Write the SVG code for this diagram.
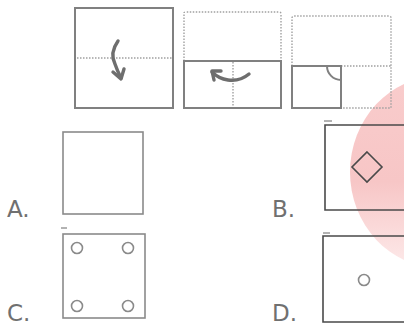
<svg xmlns="http://www.w3.org/2000/svg" width="404" height="327" viewBox="0 0 404 327">
<defs>
<linearGradient id="pinkGrad" x1="0" y1="0" x2="0" y2="1">
<stop offset="0" stop-color="#f9cccc"/>
<stop offset="0.55" stop-color="#f7c6c6"/>
<stop offset="1" stop-color="#fdeaea"/>
</linearGradient>
</defs>
<style>
.solid{fill:none;stroke:#808080;stroke-width:2}
.dot{fill:none;stroke:#a0a0a0;stroke-width:1.4;stroke-dasharray:1.5 1.5}
.arrow{fill:none;stroke:#6e6e6e;stroke-width:3.4;stroke-linecap:round;stroke-linejoin:round}
.opt{fill:none;stroke:#8a8a8a;stroke-width:1.6}
.optd{fill:none;stroke:#4a4a4a;stroke-width:1.6}
.lbl{font-family:"DejaVu Sans",Verdana,sans-serif;font-size:23px;fill:#707070}
.mark{fill:none;stroke:#666;stroke-width:1}
</style>
<rect width="404" height="327" fill="#ffffff"/>
<ellipse cx="440" cy="172" rx="90" ry="96" fill="url(#pinkGrad)"/>

<g id="step1">
<rect class="solid" x="75" y="8" width="98" height="100"/>
<line class="dot" x1="77" y1="58" x2="173" y2="58"/>
<path class="arrow" d="M118,41 C113,48 111,56 115,64 C117,70 119,74 121,78"/>
<path class="arrow" d="M113,72 L121,79 L124,69"/>
</g>

<g id="step2">
<path class="dot" d="M184,61 V13 Q184,12 186,12 H279 Q281,12 281,14 V61"/>
<rect class="solid" x="184" y="61" width="97" height="47"/>
<line class="dot" x1="233" y1="62" x2="233" y2="107"/>
<path class="arrow" d="M249,74 C243,79 235,81 228,80 C221,79 216,76 212,72"/>
<path class="arrow" d="M221,71 L212,71 L214,80"/>
</g>

<g id="step3">
<path class="dot" d="M292,66 V18 Q292,16 294,16 H389 Q391,16 391,18 V108 H341 M341,66 H391"/>
<rect class="solid" x="292" y="66" width="49" height="42"/>
<path class="solid" d="M327,66 A14,14 0 0 0 341,80"/>
</g>

<g id="optionA">
<text class="lbl" x="7" y="217">A.</text>
<rect class="opt" x="63" y="132" width="80" height="82"/>
</g>

<g id="optionB">
<text class="lbl" x="272" y="217">B.</text>
<path class="mark" d="M324,121 H332"/>
<path class="optd" d="M410,125 H325 V210 H410"/>
<path class="optd" d="M367,152 L382,167 L367,182 L352,167 Z" stroke="#5a3c3c"/>
</g>

<g id="optionC">
<text class="lbl" x="7" y="321">C.</text>
<path class="mark" d="M61,228 H67"/>
<rect class="opt" x="63" y="234" width="82" height="84"/>
<circle class="opt" cx="77" cy="248" r="5.5"/>
<circle class="opt" cx="128" cy="248" r="5.5"/>
<circle class="opt" cx="77" cy="306" r="5.5"/>
<circle class="opt" cx="128" cy="306" r="5.5"/>
</g>

<g id="optionD">
<text class="lbl" x="272" y="321">D.</text>
<path class="mark" d="M323,233 H330"/>
<path class="optd" d="M410,236 H323 V322 H410"/>
<circle class="opt" cx="364" cy="280" r="5.5" stroke="#777"/>
</g>
</svg>
